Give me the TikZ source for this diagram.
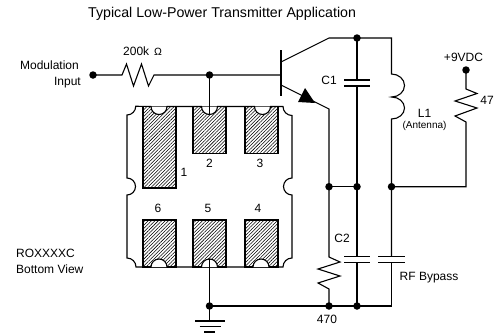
\documentclass[tikz,border=0pt]{standalone}
\usepackage{fontspec}
\setmainfont{Liberation Sans}
\usetikzlibrary{patterns.meta}
\tikzset{
  wire/.style={line width=1.1pt,line join=miter},
  dotj/.style={circle,fill=black,inner sep=0pt,minimum size=7.5pt},
  lbl/.style={inner sep=0pt,font=\fontsize{12}{14}\selectfont},
  padbox/.style={draw=black,line width=1.1pt,pattern={Lines[angle=45,distance=2.4pt,line width=0.55pt]}},
  plate/.style={line width=1.1pt}
}
\begin{document}
\begin{tikzpicture}[x=1pt,y=-1pt]
\useasboundingbox (0,0) rectangle (497,335);
% pads
\foreach \xa/\xb/\ya/\yb in {143/176/106.5/188,193/226/106.5/153.5,245/278/106.5/153.5,143/176/220/267,193/226/220/267,245/278/220/267}{
  \path[padbox] (\xa,\ya) rectangle (\xb,\yb);
}
% notch interiors
\foreach \c in {159,209.5,262.5}{
  \fill[white] (\c-8,106.5) arc[start angle=180,end angle=0,x radius=8,y radius=8] -- cycle;
}
\foreach \c in {159,209.5,261}{
  \fill[white] (\c-8,267) arc[start angle=180,end angle=360,x radius=8,y radius=8] -- cycle;
}
% chip outline
\draw[wire] (127,178) -- (127,115) arc[start angle=90,end angle=0,radius=8.75] -- (151,106.5)
  arc[start angle=180,end angle=0,radius=8] -- (201.5,106.5)
  arc[start angle=180,end angle=0,radius=8] -- (254.5,106.5)
  arc[start angle=180,end angle=0,radius=8] -- (283,106.5)
  arc[start angle=180,end angle=90,radius=9] -- (292,178)
  arc[start angle=270,end angle=90,radius=8.5] -- (292,258)
  arc[start angle=270,end angle=180,radius=9] -- (269,267)
  arc[start angle=360,end angle=180,radius=8] -- (217.5,267)
  arc[start angle=360,end angle=180,radius=8] -- (167,267)
  arc[start angle=360,end angle=180,radius=8] -- (136,267)
  arc[start angle=0,end angle=-90,radius=9] -- (127,195)
  arc[start angle=90,end angle=-90,radius=8.5] -- cycle;
% junctions
\node[dotj] (jin) at (93,75) {};
\node[dotj] (jb) at (209.5,75) {};
\node[dotj] (jc) at (357,38) {};
\node[dotj] (jv) at (466,70) {};
\node[dotj] (je) at (329,186.7) {};
\node[dotj] (jm) at (357,186.7) {};
\node[dotj] (jl) at (391.5,186.7) {};
\node[dotj] (jg) at (209.5,306) {};
\node[dotj] (jr) at (329,306) {};
\node[dotj] (jk) at (357,306) {};
\coordinate (gnd) at (209.5,321);
\coordinate (p2) at (209.5,114.5);
\coordinate (p5) at (209.5,259);
% input and base
\draw[wire] (jin.center) -- (122,75) -- (126.5,64) -- (133.5,86) -- (141.5,64) -- (148.5,86) -- (154,75) -- (jb.center) -- (281,75);
\draw[wire] (jb.center) -- (p2);
% transistor
\draw[line width=1.3pt] (281,50) -- (281,96);
\draw[wire] (281,62) -- (329,38) -- (jc.center) -- (391.5,38) -- (391.5,74)
  arc[start angle=-90,end angle=90,x radius=13,y radius=11.5]
  arc[start angle=-90,end angle=90,x radius=13,y radius=11] -- (391.5,256.5);
\draw[wire] (281,85) -- (329,109) -- (je.center) -- (329,257) -- (340,262) -- (318,269) -- (340,276) -- (318,283) -- (329,289) -- (jr.center);
\fill (305,88) -- (315,103) -- (298,102) -- cycle;
% C1, C2
\draw[wire] (jc.center) -- (357,80);
\draw[plate] (344,80) -- (370,80) (344,86) -- (370,86);
\draw[wire] (357,86) -- (jm.center) -- (357,256.5);
\draw[wire] (je.center) -- (jm.center);
\draw[plate] (344,256.5) -- (370,256.5) (344,262.5) -- (370,262.5);
\draw[wire] (357,262.5) -- (jk.center);
% RF bypass
\draw[plate] (378,256.5) -- (405,256.5) (378,262.5) -- (405,262.5);
\draw[wire] (391.5,262.5) -- (391.5,306) -- (jk.center) -- (jr.center) -- (jg.center);
% supply
\draw[wire] (jv.center) -- (466,89) -- (477,93.5) -- (455,101) -- (477,108) -- (455,116) -- (466,122) -- (466,186.7) -- (jl.center);
% ground
\draw[wire] (p5) -- (jg.center) -- (gnd);
\draw[plate] (195,321) -- (225,321) (199.5,326.5) -- (220.5,326.5) (204,332) -- (215,332);
% labels
\node[lbl,font=\fontsize{14.2}{16}\selectfont,anchor=base west] (title) at (88,17) {Typical Low-Power Transmitter Application};
\node[lbl,anchor=base east] (m1) at (79,69) {Modulation};
\node[lbl,anchor=base east] (m2) at (81,85) {Input};
\node[lbl,anchor=base west] (r1) at (123,55.5) {200k};
\node[lbl,anchor=base west,font=\fontsize{10.5}{12}\selectfont] (r2) at (154,55.5) {Ω};
\node[lbl] (n1) at (184,172.5) {1};
\node[lbl] (n2) at (209.5,163) {2};
\node[lbl] (n3) at (260,163) {3};
\node[lbl] (n6) at (158,208.5) {6};
\node[lbl] (n5) at (208,208.5) {5};
\node[lbl] (n4) at (258,208.5) {4};
\node[lbl,anchor=base west] (t1) at (16,257) {ROXXXXC};
\node[lbl,anchor=base west] (t2) at (16,273) {Bottom View};
\node[lbl] (c1) at (329,80) {C1};
\node[lbl] (l1) at (424.5,113) {L1};
\node[lbl,font=\fontsize{10}{12}\selectfont] (ant) at (424.5,126) {(Antenna)};
\node[lbl] (v) at (463.5,57) {+9VDC};
\node[lbl] (r47) at (487,100.5) {47};
\node[lbl] (c2) at (342,238) {C2};
\node[lbl,anchor=base west] (rf) at (399.5,280) {RF Bypass};
\node[lbl] (r470) at (327,319) {470};
\end{tikzpicture}
\end{document}
